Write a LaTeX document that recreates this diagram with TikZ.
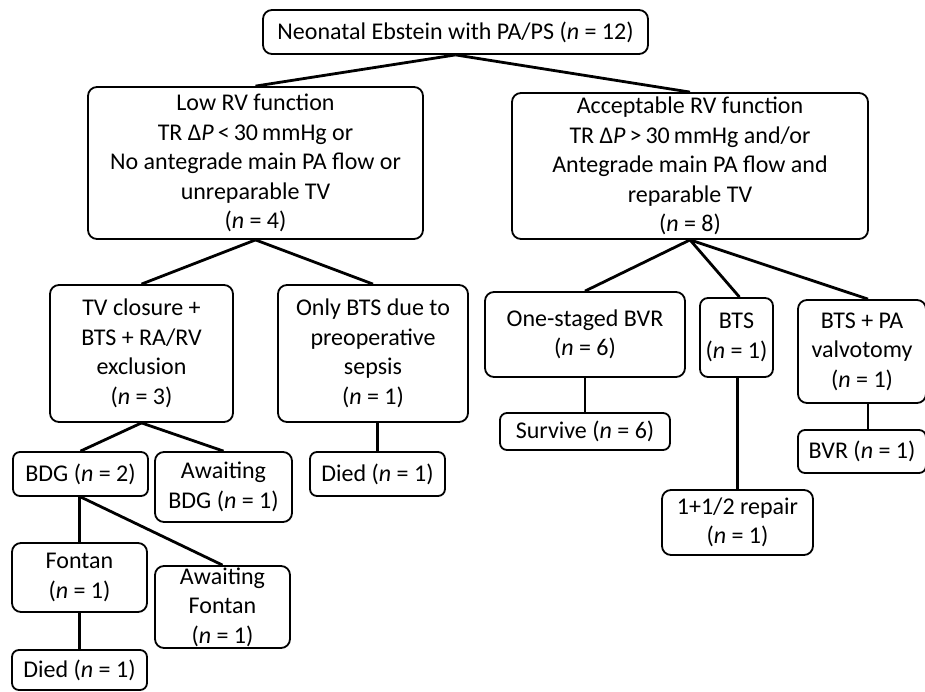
\documentclass[tikz,border=0pt]{standalone}
\usepackage{fontspec}
\setmainfont{Carlito}
\begin{document}
\begin{tikzpicture}[x=1pt,y=-1pt,
  box/.style={draw, line width=1.8pt, rounded corners=9pt, align=center, inner sep=0pt,
    font=\fontsize{24}{29.5}\selectfont},
  link/.style={line width=2.8pt}]
\useasboundingbox (0,0) rectangle (925,692);
% level 1
\node[box, minimum width=385pt, minimum height=44pt] (top) at (455.5,32) {Neonatal Ebstein with PA/PS (\textit{n} = 12)};
% level 2
\node[box, minimum width=335pt, minimum height=152pt] (low) at (255.5,163)
  {Low RV function\\TR Δ\textit{P}\,<\,30\,mmHg or\\No antegrade main PA flow or\\unreparable TV\\(\textit{n} = 4)};
\node[box, minimum width=356pt, minimum height=146pt] (acc) at (690,166)
  {Acceptable RV function\\TR Δ\textit{P}\,>\,30\,mmHg and/or\\Antegrade main PA flow and\\reparable TV\\(\textit{n} = 8)};
% level 3 left
\node[box, minimum width=183pt, minimum height=137pt] (tvc) at (141.5,353.5)
  {TV closure +\\BTS + RA/RV\\exclusion\\(\textit{n} = 3)};
\node[box, minimum width=190pt, minimum height=137pt] (only) at (373,353.5)
  {Only BTS due to\\preoperative\\sepsis\\(\textit{n} = 1)};
% level 3 right
\node[box, minimum width=200pt, minimum height=85pt] (one) at (585,334.5)
  {One-staged BVR\\(\textit{n} = 6)};
\node[box, minimum width=73pt, minimum height=79pt, rounded corners=8pt] (bts) at (736.5,337.5)
  {BTS\\(\textit{n} = 1)};
\node[box, minimum width=128pt, minimum height=103pt] (btspa) at (862,351.5)
  {BTS + PA\\valvotomy\\(\textit{n} = 1)};
% level 4
\node[box, minimum width=135pt, minimum height=44pt, rounded corners=7pt] (bdg) at (80.5,474)
  {BDG (\textit{n} = 2)};
\node[box, minimum width=137pt, minimum height=70pt] (awb) at (223.5,487)
  {Awaiting\\BDG (\textit{n} = 1)};
\node[box, minimum width=135pt, minimum height=44pt, rounded corners=7pt] (died1) at (377.5,474)
  {Died (\textit{n} = 1)};
\node[box, minimum width=170pt, minimum height=37pt, rounded corners=7pt] (surv) at (585,431.5)
  {Survive (\textit{n} = 6)};
\node[box, minimum width=128pt, minimum height=43pt, rounded corners=7pt] (bvr) at (862,451.5)
  {BVR (\textit{n} = 1)};
\node[box, minimum width=151pt, minimum height=65pt] (rep) at (737.5,522.5)
  {1+1/2 repair\\(\textit{n} = 1)};
% level 5
\node[box, minimum width=135pt, minimum height=69pt] (fontan) at (79.5,577.5)
  {Fontan\\(\textit{n} = 1)};
\node[box, minimum width=135pt, minimum height=82pt] (awf) at (222.5,607)
  {Awaiting\\Fontan\\(\textit{n} = 1)};
% level 6
\node[box, minimum width=135pt, minimum height=40pt, rounded corners=7pt] (died2) at (79.5,670)
  {Died (\textit{n} = 1)};
% connectors
\draw[link] (top.south) -- (low.north);
\draw[link] (top.south) -- (acc.north);
\draw[link] (low.south) -- (tvc.north);
\draw[link] (low.south) -- (only.north);
\draw[link] (acc.south) -- (one.north);
\draw[link] (acc.south) -- ([xshift=3pt]bts.north);
\draw[link] (acc.south) -- ([xshift=6pt]btspa.north);
\draw[link] (tvc.south) -- (bdg.north);
\draw[link] (tvc.south) -- (awb.north);
\draw[link] ([xshift=4.5pt]only.south) -- (died1.north);
\draw[link] (one.south) -- (surv.north);
\draw[link] ([xshift=1pt]bts.south) -- (rep.north);
\draw[link] ([xshift=6pt]btspa.south) -- ([xshift=6pt]bvr.north);
\draw[link] ([xshift=-1pt]bdg.south) -- (fontan.north);
\draw[link] (bdg.south) -- (awf.north);
\draw[link] (fontan.south) -- (died2.north);
\end{tikzpicture}
\end{document}
